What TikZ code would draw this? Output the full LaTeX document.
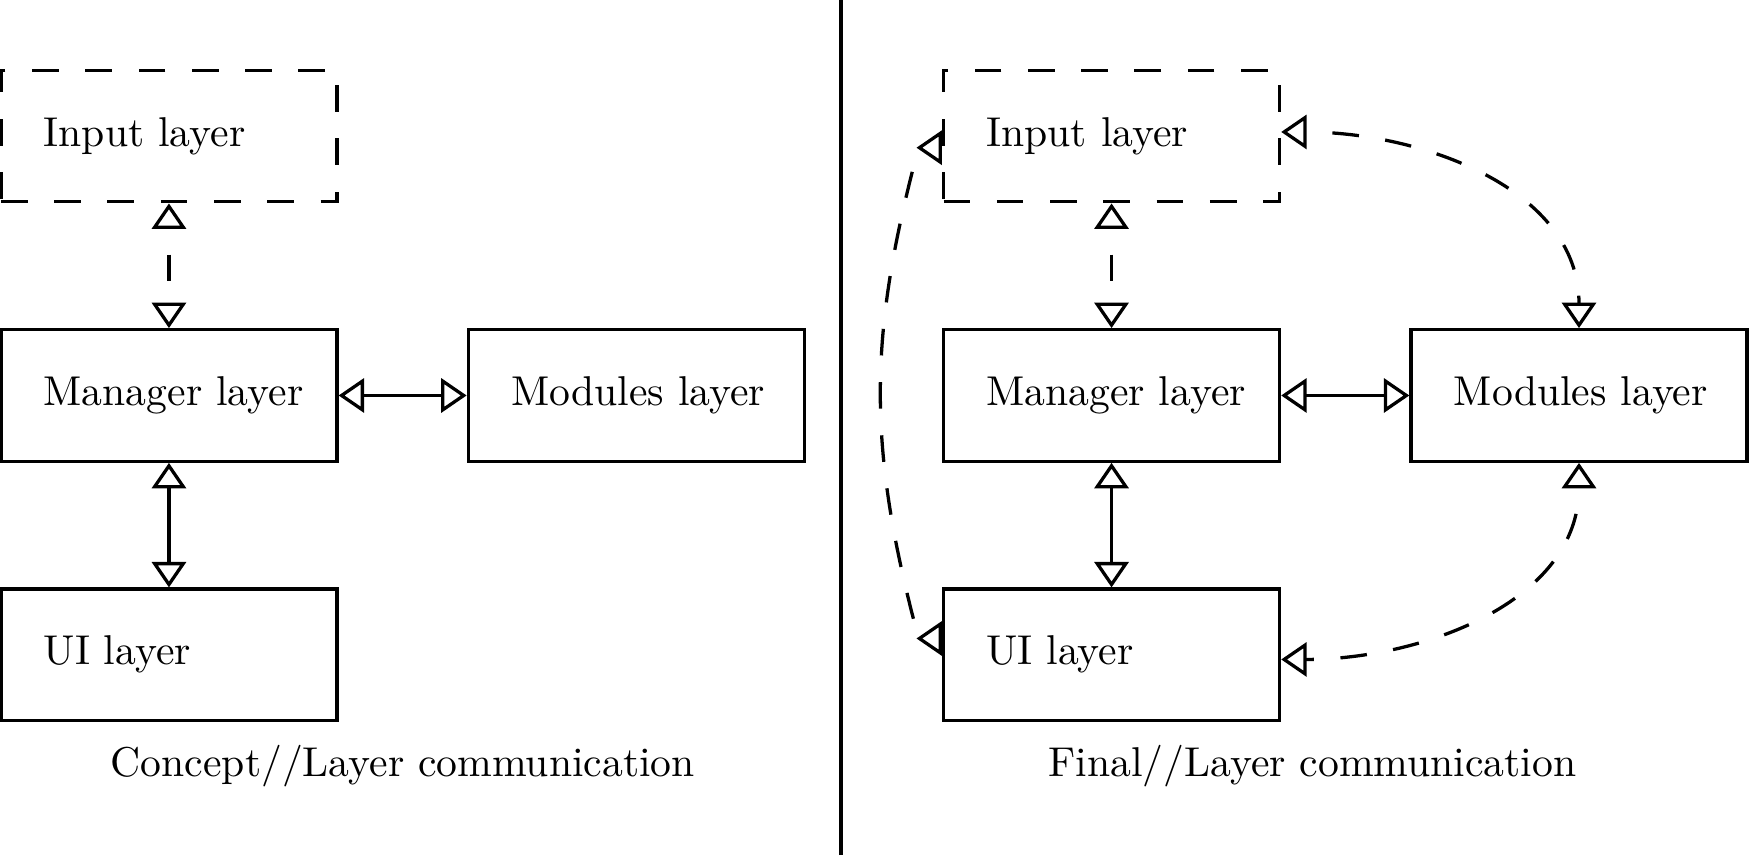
\documentclass[tikz,border=0pt]{standalone}
\usepackage{tikz}
\usetikzlibrary{arrows.meta}
\usepackage{amsmath}

\begin{document}
\begin{tikzpicture}[
  every node/.style={font=\fontsize{10.17}{12.2}\selectfont},
  layer/.style={draw, thick, minimum width=2.882cm, minimum height=1.128cm, text width=61.1pt, inner xsep=10.3pt, align=left},
  dashedbox/.style={dash pattern=on 6.5pt off 6.5pt},
  link/.style={thick, {Triangle[open,length=6.2pt,width=8.3pt]}-{Triangle[open,length=6.2pt,width=8.3pt]}},
  dashedlink/.style={link, dash pattern=on 6.5pt off 6.5pt, dash phase=6.5pt},
  revlink/.style={thick, dash pattern=on 6.5pt off 6.5pt, dash phase=6.5pt, {Triangle[open,reversed,length=6.2pt,width=8.3pt]}-{Triangle[open,reversed,length=6.2pt,width=8.3pt]}}
]

% frame
\useasboundingbox (0,0) rectangle (15,7.333);

% left part: concept
\node[layer, dashedbox] (input1) at (1.449,6.166) {Input layer};
\node[layer] (manager1) at (1.449,3.941) {\mbox{Manager layer}};
\node[layer] (modules1) at (5.457,3.941) {\mbox{Modules layer}};
\node[layer] (ui1) at (1.449,1.717) {UI layer};
\node[anchor=base] (caption1) at (3.455,0.669) {Concept//Layer communication};

\draw[dashedlink] (input1) -- (manager1);
\draw[link] (manager1) -- (modules1);
\draw[link] (manager1) -- (ui1);

% separating line
\draw[line width=1pt] (7.215,0) -- (7.215,7.333);

% right part: final
\node[layer, dashedbox] (input2) at (9.533,6.166) {Input layer};
\node[layer] (manager2) at (9.533,3.941) {\mbox{Manager layer}};
\node[layer] (modules2) at (13.542,3.941) {\mbox{Modules layer}};
\node[layer] (ui2) at (9.533,1.717) {UI layer};
\node[anchor=base] (caption2) at (11.256,0.669) {Final//Layer communication};

\draw[dashedlink] (input2) -- (manager2);
\draw[link] (manager2) -- (modules2);
\draw[link] (manager2) -- (ui2);

% curved links on the right
\draw[dashedlink] ([yshift=0.035cm]input2.east) to[out=0, in=90] (modules2.north);
\draw[dashedlink] (modules2.south) to[out=-90, in=0] ([yshift=-0.04cm]ui2.east);

% curved link on the left
\coordinate (inw) at ([yshift=-0.1cm]input2.west);
\coordinate (uiw) at ([yshift=0.14cm]ui2.west);
\draw[revlink] (inw) -- ++(-0.2,0) to[out=-105, in=105, looseness=1.03] ([xshift=-0.2cm]uiw) -- (uiw);

\end{tikzpicture}
\end{document}
